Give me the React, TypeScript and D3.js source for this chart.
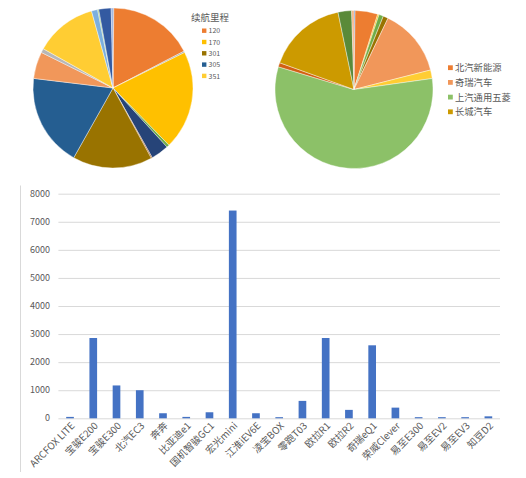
import React, { useEffect, useRef } from "react";
import * as d3 from "d3";

// 左饼图：续航里程（按扇区角度估算的份额）
const rangeSliceValues = [0.6, 62, 1, 72, 2, 13, 0.8, 58, 67.5, 19.5, 3, 45, 4.5, 0.8, 9, 1.3];
const rangeSliceColors = [
  "#4472C4", "#ED7D31", "#A5A5A5", "#FFC000", "#70AD47", "#264478", "#9E480E", "#997300",
  "#255E91", "#F1975A", "#B7B7B7", "#FFCD33", "#7CAFDD", "#8CC168", "#335AA1", "#8FAADC",
];
const rangeLegendTitle = "续航里程";
const rangeLegendLabels = ["120", "170", "301", "305", "351"];
const rangeLegendColors = ["#ED7D31", "#FFC000", "#997300", "#255E91", "#FFCD33"];

// 右饼图：厂商
const makerSliceValues = [0.8, 16.7, 1, 3.3, 3.7, 50.2, 6.3, 204.7, 3.1, 58.5, 10, 1.7];
const makerSliceColors = [
  "#4472C4", "#ED7D31", "#FFC000", "#70AD47", "#997300", "#F1975A", "#FFCD33", "#8CC168",
  "#D26012", "#CC9A00", "#5A8A39", "#F4B183",
];
const makerLegendLabels = ["北汽新能源", "奇瑞汽车", "上汽通用五菱", "长城汽车"];
const makerLegendColors = ["#ED7D31", "#F1975A", "#8CC168", "#CC9A00"];

// 柱状图：车型销量
const models = [
  "ARCFOX LITE", "宝骏E200", "宝骏E300", "北汽EC3", "奔奔", "比亚迪e1", "国机智骏GC1", "宏光mini",
  "江淮iEV6E", "凌宝BOX", "零跑T03", "欧拉R1", "欧拉R2", "奇瑞eQ1", "荣威Clever", "易至E300",
  "易至EV2", "易至EV3", "知豆D2",
];
const sales = [50, 2860, 1170, 1000, 180, 50, 215, 7400, 180, 40, 620, 2860, 300, 2600, 380, 40, 40, 40, 70];
const yTicks = [0, 1000, 2000, 3000, 4000, 5000, 6000, 7000, 8000];

const FONT = "'Noto Sans CJK SC', 'Noto Sans', sans-serif";
const TEXT = "#595959";

export default function App() {
  const svgRef = useRef<SVGSVGElement>(null);

  useEffect(() => {
    if (!svgRef.current) return;
    const svg = d3.select(svgRef.current);
    svg.selectAll("*").remove();
    svg.attr("width", 526).attr("height", 478).style("font-family", FONT);

    svg.append("rect").attr("width", 526).attr("height", 478).attr("fill", "#fff");

    const pie = d3.pie<number>().sort(null).value(d => d);

    // --- left pie ---
    const arcL = d3.arc<d3.PieArcDatum<number>>().innerRadius(0).outerRadius(80);
    const gL = svg.append("g").attr("transform", "translate(113,88)");
    gL.selectAll("path").data(pie(rangeSliceValues)).enter().append("path")
      .attr("d", arcL).attr("fill", (_, i) => rangeSliceColors[i])
      .attr("stroke", "#fff").attr("stroke-width", 0.4);

    svg.append("text").attr("x", 191).attr("y", 20.5).attr("fill", TEXT)
      .style("font-size", "9.5px").text(rangeLegendTitle);
    const legL = svg.append("g").selectAll("g").data(rangeLegendLabels).enter().append("g")
      .attr("transform", (_, i) => `translate(202,${30.7 + i * 11.3})`);
    legL.append("rect").attr("x", 0).attr("y", -2.2).attr("width", 4.4).attr("height", 4.4)
      .attr("fill", (_, i) => rangeLegendColors[i]);
    legL.append("text").attr("x", 6.5).attr("y", 2.6).attr("fill", TEXT)
      .style("font-size", "7px").text(d => d);

    // --- right pie ---
    const arcR = d3.arc<d3.PieArcDatum<number>>().innerRadius(0).outerRadius(79);
    const gR = svg.append("g").attr("transform", "translate(354,89.5)");
    gR.selectAll("path").data(pie(makerSliceValues)).enter().append("path")
      .attr("d", arcR).attr("fill", (_, i) => makerSliceColors[i])
      .attr("stroke", "#fff").attr("stroke-width", 0.4);

    const legR = svg.append("g").selectAll("g").data(makerLegendLabels).enter().append("g")
      .attr("transform", (_, i) => `translate(448,${67.7 + i * 14.7})`);
    legR.append("rect").attr("x", 0).attr("y", -2.4).attr("width", 4.8).attr("height", 4.8)
      .attr("fill", (_, i) => makerLegendColors[i]);
    legR.append("text").attr("x", 7).attr("y", 3.4).attr("fill", TEXT)
      .style("font-size", "9.3px").text(d => d);

    // --- bar chart ---
    svg.append("line").attr("x1", 20.5).attr("x2", 20.5).attr("y1", 185.5).attr("y2", 472)
      .attr("stroke", "#d9d9d9").attr("stroke-width", 1);

    const x = d3.scaleBand().domain(models).range([58.4, 500]).paddingInner(0.67).paddingOuter(0.335);
    const y = d3.scaleLinear().domain([0, 8000]).range([418.3, 193.7]);

    // Grid
    svg.append("g").attr("transform", "translate(58.4,0)")
      .call(d3.axisLeft(y).tickValues(yTicks).tickSize(-(500 - 58.4)).tickFormat(() => ""))
      .call(g => g.select(".domain").remove())
      .selectAll("line").attr("stroke", "#d9d9d9").attr("stroke-width", 1);

    svg.append("g").selectAll("text").data(yTicks).enter().append("text")
      .attr("x", 50).attr("y", d => y(d)).attr("dy", "0.35em").attr("text-anchor", "end")
      .attr("fill", TEXT).style("font-size", "9px").text(d => d);

    svg.append("g").selectAll("rect").data(sales).enter().append("rect")
      .attr("x", (_, i) => x(models[i])!).attr("width", x.bandwidth())
      .attr("y", d => y(d)).attr("height", d => y(0) - y(d))
      .attr("fill", "#4472C4");

    svg.append("g").selectAll("text").data(models).enter().append("text")
      .attr("transform", d => `translate(${x(d)! + x.bandwidth() / 2 + 3},${424}) rotate(-45)`)
      .attr("text-anchor", "end").attr("dy", "0.35em")
      .attr("fill", TEXT).style("font-size", "9.8px").text(d => d);
  }, []);

  return (
    <div style={{ position: "fixed", left: 0, top: 0, width: 526, height: 478 }}>
      <svg ref={svgRef} style={{ display: "block" }}></svg>
    </div>
  );
}
